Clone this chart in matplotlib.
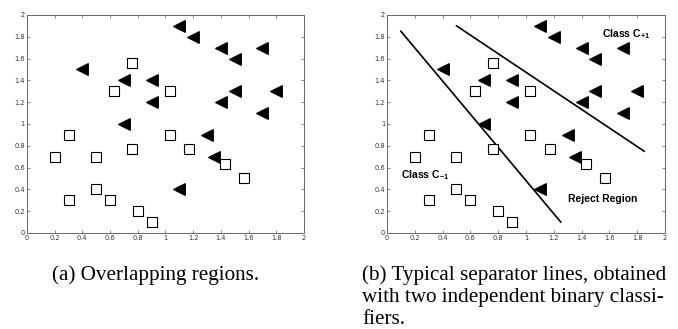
import matplotlib.pyplot as plt

plt.rcParams['mathtext.fontset'] = 'custom'
plt.rcParams['mathtext.rm'] = 'Liberation Sans'
plt.rcParams['mathtext.bf'] = 'Liberation Sans:bold'

# data points
sq_x = [0.2, 0.3, 0.3, 0.5, 0.5, 0.6, 0.63, 0.76, 0.76, 0.8, 0.9, 1.03, 1.03, 1.17, 1.43, 1.57]
sq_y = [0.7, 0.9, 0.3, 0.7, 0.4, 0.3, 1.3, 1.56, 0.77, 0.2, 0.1, 1.3, 0.9, 0.77, 0.63, 0.5]
tri_x = [0.4, 0.7, 0.9, 0.9, 0.7, 1.1, 1.2, 1.4, 1.5, 1.7, 1.5, 1.4, 1.8, 1.7, 1.3, 1.35, 1.1]
tri_y = [1.5, 1.4, 1.4, 1.2, 1.0, 1.9, 1.8, 1.7, 1.6, 1.7, 1.3, 1.2, 1.3, 1.1, 0.9, 0.7, 0.4]

# separator lines (panel b)
line1_x = [0.1, 1.25]
line1_y = [1.85, 0.1]
line2_x = [0.5, 1.85]
line2_y = [1.9, 0.75]

ticks = [0, 0.2, 0.4, 0.6, 0.8, 1, 1.2, 1.4, 1.6, 1.8, 2]
tick_labels = ['0', '0.2', '0.4', '0.6', '0.8', '1', '1.2', '1.4', '1.6', '1.8', '2']

fig = plt.figure(figsize=(6.78, 3.29), dpi=100)
ax_a = fig.add_axes([0.0398, 0.292, 0.4086, 0.6626])
ax_b = fig.add_axes([0.5708, 0.292, 0.4100, 0.6626])

for ax in (ax_a, ax_b):
    ax.scatter(sq_x, sq_y, marker='s', s=50, facecolor='white', edgecolor='black', linewidths=0.8, zorder=3)
    ax.scatter(tri_x, tri_y, marker='<', s=68, color='black', zorder=3)
    ax.set_xlim(0, 2)
    ax.set_ylim(0, 2)
    ax.set_xticks(ticks)
    ax.set_yticks(ticks)
    ax.set_xticklabels(tick_labels)
    ax.set_yticklabels(tick_labels)
    ax.tick_params(direction='in', length=2.5, width=0.5, labelsize=4.8, pad=1.5,
                   top=True, right=True, color='#555555', labelcolor='#333333')
    for sp in ax.spines.values():
        sp.set_linewidth(0.7)
        sp.set_color('#666666')

ax_b.plot(line1_x, line1_y, color='black', lw=1.2, zorder=2)
ax_b.plot(line2_x, line2_y, color='black', lw=1.2, zorder=2)

bold = dict(family='Liberation Sans', fontweight='bold', fontsize=7.5)
ax_b.text(1.55, 1.8, r'Class C$_{\mathbf{+1}}$', **bold)
ax_b.text(0.1, 0.5, r'Class C$_{\mathbf{-1}}$', **bold)
ax_b.text(1.3, 0.28, 'Reject Region', **bold)

cap = dict(family='Liberation Serif', fontsize=15.2, va='baseline')
fig.text(156 / 678, 1 - 280 / 329, '(a) Overlapping regions.', ha='center', **cap)
fig.text(362 / 678, 1 - 280 / 329, '(b) Typical separator lines, obtained', ha='left', **cap)
fig.text(362 / 678, 1 - 302 / 329, 'with two independent binary classi-', ha='left', **cap)
fig.text(362 / 678, 1 - 324 / 329, 'fiers.', ha='left', **cap)

fig.savefig('out.png', dpi=100)
